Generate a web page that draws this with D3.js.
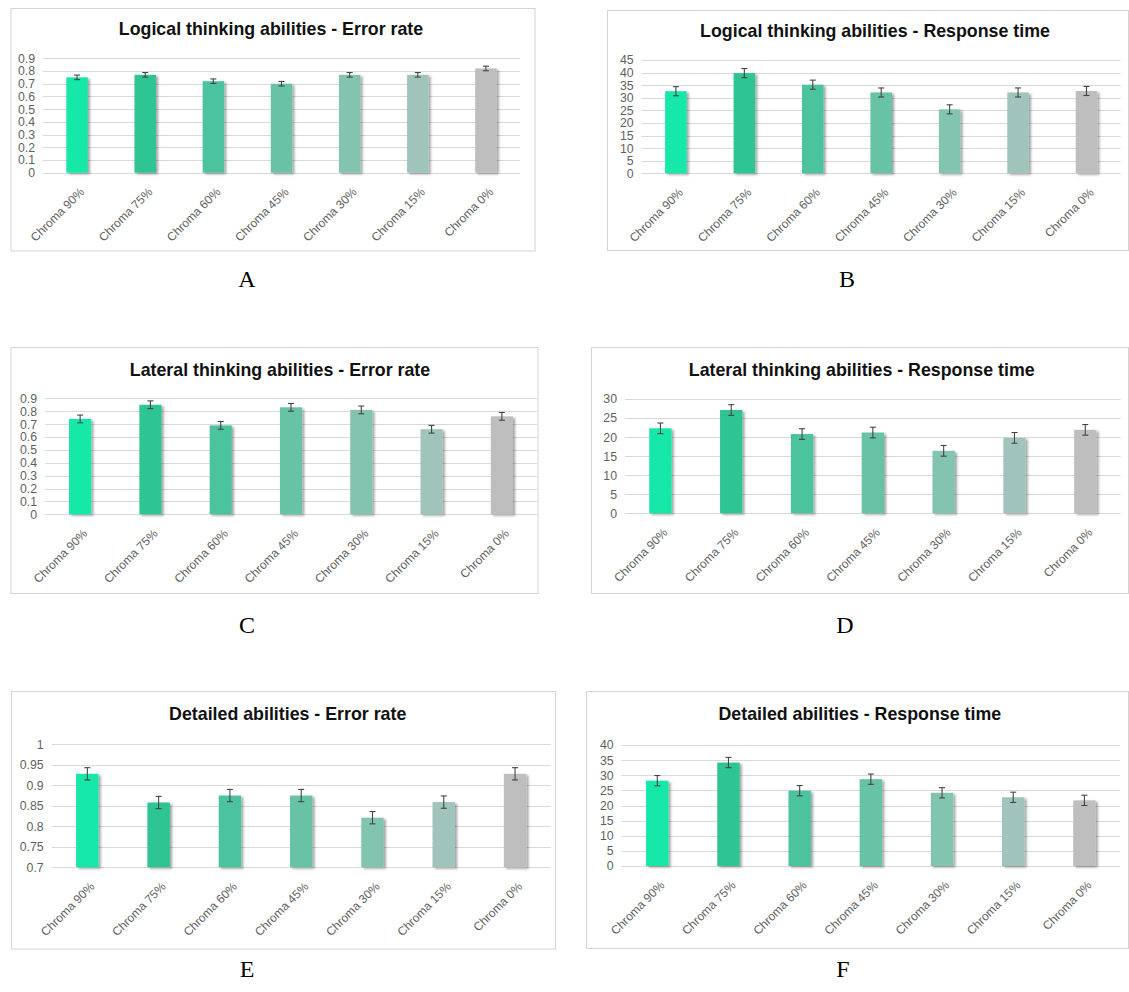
<!DOCTYPE html>
<html>
<head>
<meta charset="utf-8">
<script src="https://cdn.jsdelivr.net/npm/d3@7"></script>
<style>
  html, body { margin: 0; padding: 0; background: #ffffff; }
  svg { display: block; }
</style>
</head>
<body>
<svg id="fig" width="1129" height="992"></svg>
<script>
// ---- data ----
const categories = ["Chroma 90%", "Chroma 75%", "Chroma 60%", "Chroma 45%", "Chroma 30%", "Chroma 15%", "Chroma 0%"];
const barColors = ["#12e8a9", "#2ec494", "#4cc39f", "#67c2a6", "#83c4b1", "#a0c4bb", "#bebebe"];

const logicalErrorRate   = [0.75, 0.77, 0.72, 0.70, 0.77, 0.77, 0.82];
const logicalErrorRateSE = [0.018, 0.018, 0.018, 0.018, 0.018, 0.018, 0.018];
const logicalTime        = [32.6, 39.8, 35.2, 32.1, 25.4, 32.1, 32.7];
const logicalTimeSE      = [1.8, 1.8, 1.8, 1.8, 1.8, 1.8, 1.8];

const lateralErrorRate   = [0.74, 0.85, 0.69, 0.83, 0.81, 0.66, 0.76];
const lateralErrorRateSE = [0.03, 0.03, 0.03, 0.03, 0.03, 0.03, 0.03];
const lateralTime        = [22.3, 27.1, 20.8, 21.2, 16.4, 19.8, 21.9];
const lateralTimeSE      = [1.4, 1.4, 1.4, 1.4, 1.4, 1.4, 1.4];

const detailedErrorRate   = [0.928, 0.858, 0.875, 0.875, 0.821, 0.859, 0.928];
const detailedErrorRateSE = [0.015, 0.015, 0.015, 0.015, 0.015, 0.015, 0.015];
const detailedTime        = [28.2, 34.2, 24.9, 28.7, 24.2, 22.7, 21.7];
const detailedTimeSE      = [1.7, 1.7, 1.7, 1.7, 1.7, 1.7, 1.7];

const ticksRate         = [0, 0.1, 0.2, 0.3, 0.4, 0.5, 0.6, 0.7, 0.8, 0.9];
const ticksLogicalTime  = [0, 5, 10, 15, 20, 25, 30, 35, 40, 45];
const ticksLateralTime  = [0, 5, 10, 15, 20, 25, 30];
const ticksDetailedRate = [0.7, 0.75, 0.8, 0.85, 0.9, 0.95, 1];
const ticksDetailedTime = [0, 5, 10, 15, 20, 25, 30, 35, 40];

const panelTitles = [
  "Logical thinking abilities - Error rate",
  "Logical thinking abilities - Response time",
  "Lateral thinking abilities - Error rate",
  "Lateral thinking abilities - Response time",
  "Detailed abilities - Error rate",
  "Detailed abilities - Response time"
];
const panelLetters = ["A", "B", "C", "D", "E", "F"];

// ---- layout of the six chart boxes ----
const panels = [
  { values: logicalErrorRate,  errors: logicalErrorRateSE,  ticks: ticksRate,
    frame: [11, 8.5, 524, 242.5],    plot: [43, 520, 58.3, 172.7],   titleX: 271, titleY: 35,  letter: [247, 287] },
  { values: logicalTime,       errors: logicalTimeSE,       ticks: ticksLogicalTime,
    frame: [607.5, 10.5, 521, 240],  plot: [641.7, 1120.7, 60, 173.3], titleX: 875, titleY: 36.5, letter: [847, 287] },
  { values: lateralErrorRate,  errors: lateralErrorRateSE,  ticks: ticksRate,
    frame: [11, 347.5, 527, 246],    plot: [45, 537, 398.3, 514.3],  titleX: 280, titleY: 375.5, letter: [247, 633] },
  { values: lateralTime,       errors: lateralTimeSE,       ticks: ticksLateralTime,
    frame: [591.5, 347.5, 537, 246], plot: [625, 1120.7, 399, 513.3], titleX: 861.7, titleY: 375.5, letter: [845, 633] },
  { values: detailedErrorRate, errors: detailedErrorRateSE, ticks: ticksDetailedRate,
    frame: [11.5, 691.5, 544, 257.5], plot: [51.7, 550.7, 744.3, 867.3], titleX: 287.7, titleY: 720, letter: [247, 977] },
  { values: detailedTime,      errors: detailedTimeSE,      ticks: ticksDetailedTime,
    frame: [586.5, 691.5, 542, 257], plot: [621.7, 1120, 745, 866],  titleX: 859.8, titleY: 720, letter: [843, 977] }
];

const svg = d3.select("#fig");

// soft shadow cast by each bar
const defs = svg.append("defs");
const shadow = defs.append("filter").attr("id", "barShadow")
  .attr("x", "-30%").attr("y", "-10%").attr("width", "160%").attr("height", "130%");
shadow.append("feDropShadow")
  .attr("dx", 2.2).attr("dy", 1.5).attr("stdDeviation", 1.3)
  .attr("flood-color", "#000").attr("flood-opacity", 0.35);

const sans = "'Liberation Sans', Arial, Helvetica, sans-serif";

panels.forEach((p, i) => {
  const [fx, fy, fw, fh] = p.frame;
  const [left, right, top, bottom] = p.plot;
  const g = svg.append("g");

  // chart frame
  g.append("rect")
    .attr("x", fx).attr("y", fy).attr("width", fw).attr("height", fh)
    .attr("fill", "#fff").attr("stroke", "#d4d4d4").attr("stroke-width", 1);

  // title
  g.append("text")
    .attr("x", p.titleX).attr("y", p.titleY)
    .attr("text-anchor", "middle")
    .style("font-family", sans).style("font-weight", "bold")
    .style("font-size", "17.8px").attr("fill", "#111")
    .text(panelTitles[i]);

  const x = d3.scaleBand().domain(categories).range([left, right])
    .paddingInner(0.685).paddingOuter(0.3425);
  const y = d3.scaleLinear().domain(d3.extent(p.ticks)).range([bottom, top]);

  // horizontal gridlines
  g.append("g").selectAll("line").data(p.ticks).join("line")
    .attr("x1", left).attr("x2", right)
    .attr("y1", d => Math.round(y(d)) + 0.5).attr("y2", d => Math.round(y(d)) + 0.5)
    .attr("stroke", "#d9d9d9").attr("stroke-width", 1);

  // value axis labels
  const yAxis = d3.axisLeft(y).tickValues(p.ticks).tickSize(0).tickPadding(8)
    .tickFormat(d => String(+d.toFixed(2)));
  const ya = g.append("g").attr("transform", `translate(${left},0)`).call(yAxis);
  ya.select(".domain").remove();
  ya.selectAll("text").style("font-family", sans).style("font-size", "12.3px").attr("fill", "#5f5f5f");

  // category labels, rotated
  const xAxis = d3.axisBottom(x).tickSize(0).tickPadding(0);
  const xa = g.append("g").attr("transform", `translate(0,${bottom})`).call(xAxis);
  xa.select(".domain").remove();
  xa.selectAll("text")
    .attr("text-anchor", "end")
    .attr("dy", null).attr("y", null)
    .attr("transform", "translate(8,20) rotate(-45)")
    .style("font-family", sans).style("font-size", "12px").attr("fill", "#5f5f5f");

  const rows = categories.map((c, k) => ({ c, v: p.values[k], e: p.errors[k], col: barColors[k] }));

  // bars
  g.append("g").selectAll("rect").data(rows).join("rect")
    .attr("x", d => x(d.c)).attr("width", x.bandwidth())
    .attr("y", d => y(d.v)).attr("height", d => y(y.domain()[0]) - y(d.v))
    .attr("fill", d => d.col)
    .attr("filter", "url(#barShadow)");

  // error bars
  const eb = g.append("g").attr("stroke", "#444").attr("stroke-width", 1.1).attr("fill", "none");
  const cx = d => x(d.c) + x.bandwidth() / 2;
  eb.selectAll("line.v").data(rows).join("line").attr("class", "v")
    .attr("x1", cx).attr("x2", cx)
    .attr("y1", d => y(d.v - d.e)).attr("y2", d => y(d.v + d.e));
  eb.selectAll("line.t").data(rows).join("line").attr("class", "t")
    .attr("x1", d => cx(d) - 3).attr("x2", d => cx(d) + 3)
    .attr("y1", d => y(d.v + d.e)).attr("y2", d => y(d.v + d.e));
  eb.selectAll("line.b").data(rows).join("line").attr("class", "b")
    .attr("x1", d => cx(d) - 3).attr("x2", d => cx(d) + 3)
    .attr("y1", d => y(d.v - d.e)).attr("y2", d => y(d.v - d.e));

  // panel letter
  svg.append("text")
    .attr("x", p.letter[0]).attr("y", p.letter[1])
    .attr("text-anchor", "middle")
    .style("font-family", "'Liberation Serif', 'Times New Roman', serif")
    .style("font-size", "24px").attr("fill", "#000")
    .text(panelLetters[i]);
});
</script>
</body>
</html>
